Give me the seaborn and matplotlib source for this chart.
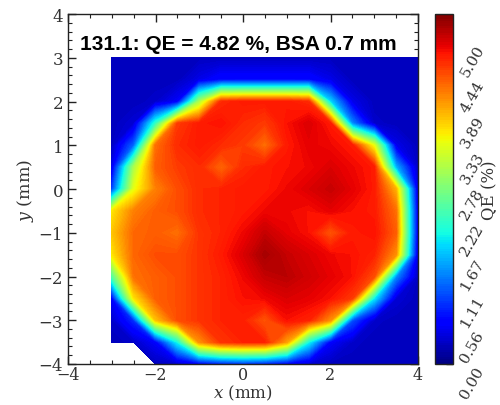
import numpy as np
import matplotlib
matplotlib.use("Agg")
import matplotlib.pyplot as plt
import seaborn as sns

# ---- data (QE in %; None = not scanned) ----
x_vals = [-3.0, -2.5, -2.0, -1.5, -1.0, -0.5, 0.0, 0.5, 1.0, 1.5, 2.0, 2.5, 3.0, 3.5, 4.0]
y_vals = [3.0, 2.5, 2.0, 1.5, 1.0, 0.5, 0.0, -0.5, -1.0, -1.5, -2.0, -2.5, -3.0, -3.5, -4.0]
qe_y3p0 = [0.30, 0.30, 0.30, 0.30, 0.30, 0.30, 0.30, 0.30, 0.30, 0.30, 0.30, 0.30, 0.30, 0.30, 0.30]
qe_y2p5 = [0.30, 0.30, 0.30, 0.30, 0.50, 0.70, 0.70, 0.70, 0.70, 0.70, 0.50, 0.30, 0.30, 0.30, 0.30]
qe_y2p0 = [0.30, 0.30, 0.35, 0.60, 3.00, 4.70, 4.80, 4.80, 4.80, 4.70, 1.80, 0.50, 0.30, 0.30, 0.30]
qe_y1p5 = [0.30, 0.40, 2.20, 4.60, 4.80, 4.85, 4.70, 4.60, 4.85, 5.00, 4.80, 1.40, 0.35, 0.30, 0.30]
qe_y1p0 = [0.30, 1.20, 4.30, 4.70, 4.80, 4.70, 4.60, 4.30, 4.80, 4.95, 4.90, 4.80, 3.40, 0.50, 0.30]
qe_y0p5 = [0.50, 3.00, 4.40, 4.60, 4.70, 4.35, 4.70, 4.80, 4.85, 4.90, 5.00, 4.90, 4.80, 1.60, 0.30]
qe_y0p0 = [1.00, 3.40, 4.20, 4.50, 4.70, 4.75, 4.80, 4.80, 4.90, 5.00, 5.10, 4.95, 4.80, 3.90, 0.40]
qe_ym0p5 = [3.60, 4.20, 4.40, 4.50, 4.70, 4.75, 4.80, 4.90, 4.90, 4.85, 4.95, 4.85, 4.80, 4.30, 0.50]
qe_ym1p0 = [3.80, 4.35, 4.40, 4.30, 4.65, 4.75, 4.90, 5.10, 4.95, 4.85, 4.45, 4.80, 4.85, 4.40, 0.50]
qe_ym1p5 = [3.60, 4.35, 4.50, 4.50, 4.65, 4.80, 5.00, 5.25, 5.10, 5.00, 4.90, 4.85, 4.75, 4.10, 0.40]
qe_ym2p0 = [2.40, 4.30, 4.40, 4.50, 4.65, 4.75, 4.90, 5.10, 5.15, 5.05, 4.95, 4.85, 4.50, 1.40, 0.30]
qe_ym2p5 = [0.60, 3.60, 4.40, 4.50, 4.65, 4.75, 4.85, 4.90, 5.00, 4.95, 4.85, 4.60, 1.90, 0.40, 0.30]
qe_ym3p0 = [0.35, 0.90, 3.80, 4.50, 4.65, 4.75, 4.75, 4.45, 4.85, 4.75, 4.10, 1.10, 0.35, 0.30, 0.30]
qe_ym3p5 = [0.30, 0.35, 0.60, 2.00, 4.10, 4.65, 4.75, 4.75, 4.00, 2.00, 0.60, 0.35, 0.30, 0.30, 0.30]
qe_ym4p0 = [None, None, 0.30, 0.35, 0.60, 0.80, 0.90, 0.80, 0.60, 0.40, 0.30, 0.30, 0.30, 0.30, 0.30]

cbar_ticks = [0.00, 0.56, 1.11, 1.67, 2.22, 2.78, 3.33, 3.89, 4.44, 5.00]
title_text = "131.1: QE = 4.82 %, BSA 0.7 mm"
qe_max = 5.44

# ---- figure ----
sns.set_theme(style="ticks")
plt.rcParams["font.family"] = ["DejaVu Serif"]
plt.rcParams["mathtext.fontset"] = "dejavuserif"

rows = [qe_y3p0, qe_y2p5, qe_y2p0, qe_y1p5, qe_y1p0, qe_y0p5, qe_y0p0, qe_ym0p5,
        qe_ym1p0, qe_ym1p5, qe_ym2p0, qe_ym2p5, qe_ym3p0, qe_ym3p5, qe_ym4p0]
Z = np.array([[np.nan if v is None else v for v in r] for r in rows], dtype=float)
Z = np.ma.masked_invalid(Z)
X, Y = np.meshgrid(np.array(x_vals), np.array(y_vals))

fig = plt.figure(figsize=(5.0, 4.06), dpi=100)
ax = fig.add_axes([0.136, 0.101, 0.70, 0.862])
cax = fig.add_axes([0.870, 0.101, 0.036, 0.862])

cmap = plt.get_cmap("jet")
levels = np.linspace(0, qe_max, 150)
cs = ax.contourf(X, Y, Z, levels=levels, cmap=cmap, vmin=0, vmax=qe_max)

ax.set_xlim(-4, 4)
ax.set_ylim(-4, 4)
ax.set_xticks([-4, -2, 0, 2, 4])
ax.set_yticks([-4, -3, -2, -1, 0, 1, 2, 3, 4])
ax.set_xticks(np.arange(-4, 4.01, 0.5), minor=True)
ax.set_yticks(np.arange(-4, 4.01, 0.2), minor=True)
ax.tick_params(which="both", direction="in", top=True, right=True, colors="#222222",
               labelsize=12, labelcolor="#333333")
ax.tick_params(which="major", length=6, width=1.0)
ax.tick_params(which="minor", length=3, width=0.8)
ax.tick_params(axis="x", which="major", pad=1.5, labelsize=11.5)
for s in ax.spines.values():
    s.set_color("#222222")
    s.set_linewidth(1.0)
ax.set_xlabel("$x$ (mm)", fontsize=12, color="#333333", labelpad=0)
ax.set_ylabel("$y$ (mm)", fontsize=12.5, color="#333333", labelpad=2)

ax.text(-3.73, 3.32, title_text, fontsize=15, fontweight="bold",
        family=["Liberation Sans", "DejaVu Sans"], color="black",
        ha="left", va="center")

cb = fig.colorbar(cs, cax=cax)
cb.set_ticks(cbar_ticks)
cb.set_ticklabels([f"{t:.2f}" for t in cbar_ticks])
cax.tick_params(direction="in", length=5, width=1.0, labelsize=11, right=True,
                labelcolor="#333333", colors="#222222")
for lab in cax.get_yticklabels():
    lab.set_rotation(60)
    lab.set_va("top")
    lab.set_ha("left")
cb.outline.set_edgecolor("#222222")
cb.outline.set_linewidth(1.0)
cax.text(3.05, 0.5, "QE (%)", rotation=90, transform=cax.transAxes, fontsize=12,
         ha="center", va="center", color="#333333")

fig.savefig("out.png", dpi=100)
